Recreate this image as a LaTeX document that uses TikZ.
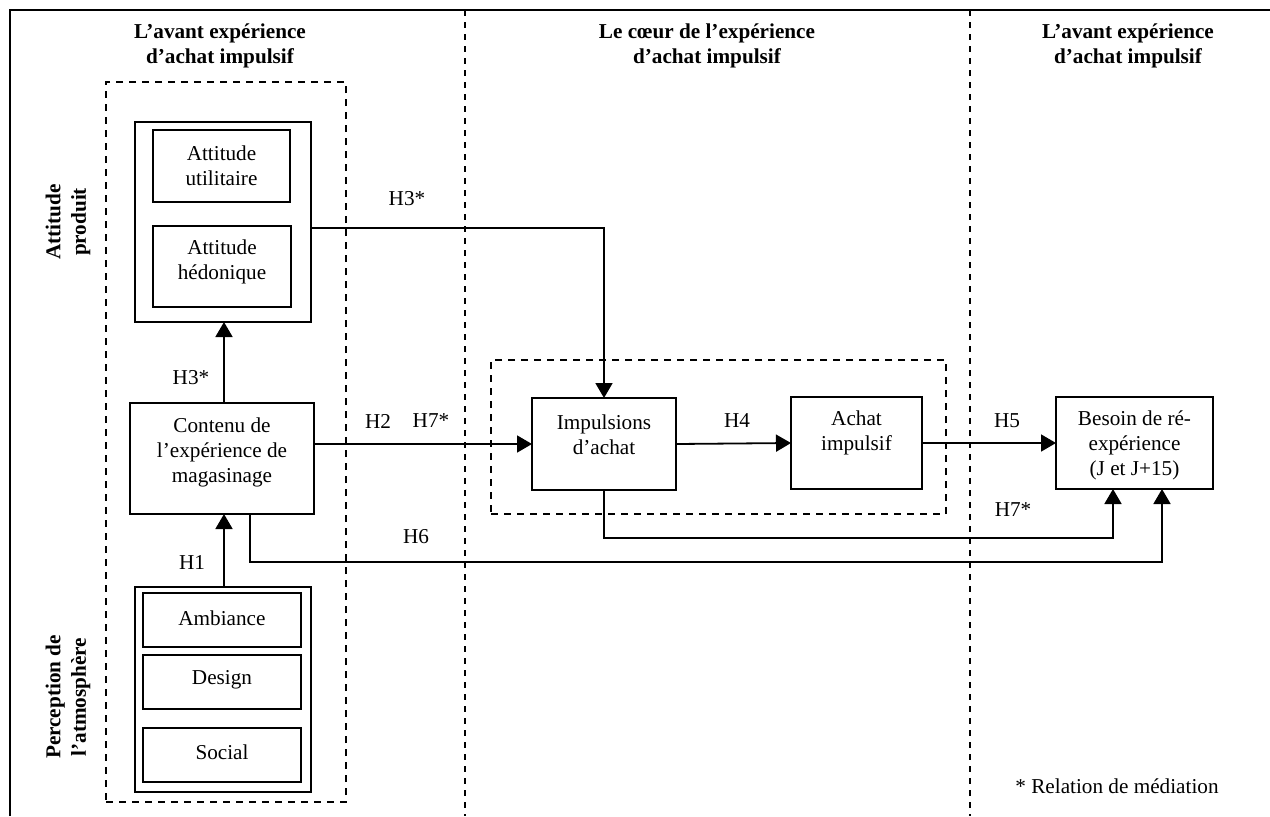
\documentclass[tikz,border=0pt]{standalone}
\usepackage{fontspec}
\setmainfont{Liberation Serif}
\usetikzlibrary{arrows.meta,fit}
\begin{document}
\begin{tikzpicture}[x=0.5pt,y=-0.5pt,
  box/.style={draw, line width=0.9pt, inner sep=0pt, outer sep=0pt},
  dbox/.style={draw, line width=0.75pt, dash pattern=on 3.5pt off 3pt, inner sep=0pt, outer sep=0pt},
  txt/.style={inner sep=0pt, align=center, font=\fontsize{10.6}{12.5}\selectfont},
  hd/.style={inner sep=0pt, align=center, font=\fontsize{10.6}{12.8}\selectfont\bfseries},
  arr/.style={line width=0.9pt, -{Triangle[length=7.5pt,width=8.5pt]}},
  sep/.style={line width=0.75pt, dash pattern=on 3pt off 3pt},
  frame/.style={line width=1pt}]
\useasboundingbox (0,0) rectangle (1270,816);
% frame and column separators
\coordinate (fbl) at (10,816);
\coordinate (ftl) at (10,10);
\coordinate (ftr) at (1270,10);
\draw[frame] (fbl) -- (ftl) -- (ftr);
\coordinate (s1t) at (465,10);
\coordinate (s1b) at (465,816);
\coordinate (s2t) at (970,10);
\coordinate (s2b) at (970,816);
\draw[sep] (s1t) -- (s1b);
\draw[sep] (s2t) -- (s2b);
% headers
\node[hd] (h1) at (220,46) {L’avant expérience\\d’achat impulsif};
\node[hd] (h2) at (707,46) {Le cœur de l’expérience\\d’achat impulsif};
\node[hd] (h3) at (1128,46) {L’avant expérience\\d’achat impulsif};
% dashed groups
\node[dbox, fit={(106,82) (346,802)}] (ldash) {};
\node[dbox, fit={(491,360) (946,514)}] (mdash) {};
% side labels
\node[hd, rotate=90] (lap) at (68,222) {Attitude\\produit};
\node[hd, rotate=90] (lpa) at (68,697) {Perception de\\l’atmosphère};
% attitude produit
\node[box, fit={(135,122) (311,322)}] (attP) {};
\node[box, fit={(153,130) (290,202)}] (attU) {};
\node[txt] (attUt) at (221.5,165.5) {Attitude\\utilitaire};
\node[box, fit={(153,226) (291,307)}] (attH) {};
\node[txt] (attHt) at (222,261.5) {Attitude\\hédonique};
% contenu
\node[box, fit={(130,403) (314,514)}] (cont) {};
\node[txt] (contt) at (222,452) {Contenu de\\l’expérience de\\magasinage};
% atmosphere
\node[box, fit={(135,587) (311,792)}] (atm) {};
\node[box, fit={(143,593) (301,647)}] (amb) {};
\node[txt] (ambt) at (222,618) {Ambiance};
\node[box, fit={(143,655) (301,709)}] (des) {};
\node[txt] (dest) at (222,680) {Design};
\node[box, fit={(143,728) (301,782)}] (soc) {};
\node[txt] (soct) at (222,752) {Social};
% core
\node[box, fit={(532,398) (676,490)}] (imp) {};
\node[txt] (impt) at (604,434.5) {Impulsions\\d’achat};
\node[box, fit={(791,397) (922,489)}] (ach) {};
\node[txt] (acht) at (856.5,432.5) {Achat\\impulsif};
\node[box, fit={(1056,397) (1213,489)}] (bes) {};
\node[txt] (best) at (1134.5,445) {Besoin de ré-\\expérience\\(J et J+15)};
% helper coordinates
\coordinate (x224) at (224,0);
\coordinate (h3y) at (0,228);
\coordinate (h7c) at (1113,538);
\coordinate (h6s) at (250,0);
\coordinate (h6c) at (1162,562);
% connectors
\draw[arr] (atm.north -| x224) -- (cont.south -| x224);
\draw[arr] (cont.north -| x224) -- (attP.south -| x224);
\draw[arr] (attP.east |- h3y) -| (imp.north);
\draw[arr] (cont.east |- imp.west) -- (imp.west);
\draw[arr] (imp.east) -- (ach.west);
\draw[arr] (ach.east) -- (bes.west);
\draw[arr] (imp.south) |- (h7c) -- (h7c |- bes.south);
\draw[arr] (cont.south -| h6s) |- (h6c) -- (h6c |- bes.south);
% hypothesis labels
\node[txt] (lh3a) at (407,199) {H3*};
\node[txt] (lh3b) at (191,378) {H3*};
\node[txt] (lh1) at (192,562) {H1};
\node[txt] (lh2) at (378,421) {H2};
\node[txt] (lh7a) at (431,421) {H7*};
\node[txt] (lh4) at (737,421) {H4};
\node[txt] (lh5) at (1007,421) {H5};
\node[txt] (lh7b) at (1013,510) {H7*};
\node[txt] (lh6) at (416,537) {H6};
\node[txt] (note) at (1117,786) {* Relation de médiation};
\end{tikzpicture}
\end{document}
